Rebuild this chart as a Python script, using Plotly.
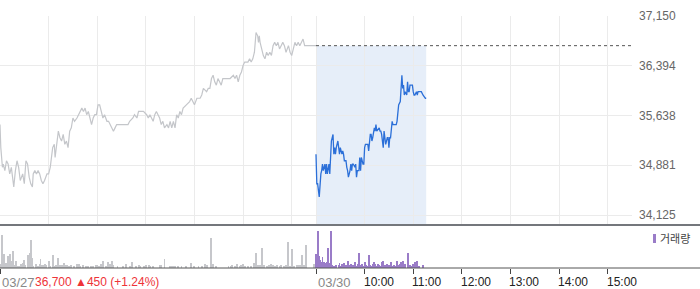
import plotly.graph_objects as go

# ---------------- data ----------------
prev_close = 36700
session_len = 390  # minutes 09:00-15:30

day1_min = [0, 1, 3, 4, 6, 8, 10, 12, 14, 16,
            17, 19, 21, 23, 25, 28, 30, 32, 34, 36,
            38, 40, 41, 43, 45, 47, 49, 51, 53, 55,
            58, 60, 62, 65, 67, 68, 70, 72, 74, 76,
            78, 80, 82, 84, 86, 88, 90, 92, 95, 97,
            99, 101, 103, 105, 107, 109, 111, 113, 115, 117,
            119, 121, 123, 125, 127, 129, 132, 134, 136, 138,
            140, 142, 144, 152, 158, 160, 164, 166, 169, 171,
            177, 181, 183, 185, 187, 189, 191, 193, 195, 197,
            199, 201, 203, 206, 208, 210, 212, 214, 216, 218,
            220, 222, 224, 226, 230, 234, 236, 238, 240, 243,
            247, 249, 251, 255, 257, 259, 261, 263, 265, 267,
            269, 271, 273, 275, 279, 284, 288, 290, 292, 294,
            296, 298, 300, 302, 304, 306, 308, 310, 312, 314,
            316, 318, 319, 320, 321, 323, 325, 327, 329, 331,
            333, 335, 337, 339, 341, 343, 345, 347, 349, 351,
            353, 356, 358, 360, 362, 364, 366, 368, 370, 372,
            374, 376, 378, 382, 390]
day1_price = [35500, 35150, 34850, 34900, 34800, 34950, 34900, 34750, 34850, 34650,
              34550, 34800, 34950, 34850, 34650, 34750, 34600, 34950, 34900, 34700,
              34600, 34550, 34750, 34800, 34750, 34800, 34750, 34650, 34600, 34650,
              34750, 34750, 34850, 35150, 35200, 35000, 35250, 35400, 35300, 35250,
              35350, 35200, 35250, 35150, 35400, 35450, 35600, 35550, 35600, 35650,
              35700, 35750, 35700, 35750, 35650, 35700, 35600, 35500, 35600, 35650,
              35650, 35800, 35800, 35700, 35600, 35650, 35550, 35550, 35500, 35450,
              35400, 35450, 35500, 35500, 35500, 35550, 35600, 35650, 35600, 35700,
              35700, 35650, 35600, 35650, 35600, 35550, 35650, 35700, 35650, 35600,
              35500, 35550, 35450, 35500, 35450, 35550, 35450, 35550, 35450, 35650,
              35600, 35700, 35650, 35750, 35800, 35850, 35900, 35850, 35800, 35900,
              35900, 35950, 36050, 36000, 36050, 36050, 36200, 36250, 36150, 36100,
              36200, 36150, 36100, 36200, 36200, 36200, 36250, 36200, 36250, 36150,
              36250, 36300, 36400, 36450, 36450, 36450, 36500, 36450, 36500, 36600,
              36900, 36850, 36750, 36850, 36750, 36650, 36550, 36500, 36600, 36550,
              36600, 36550, 36700, 36750, 36700, 36750, 36650, 36700, 36750, 36700,
              36600, 36700, 36600, 36550, 36650, 36750, 36700, 36750, 36700, 36750,
              36800, 36700, 36700, 36700, 36700]

day2_min = [0, 1, 2, 4, 6, 7, 8, 9, 11, 12,
            13, 14, 16, 17, 18, 19, 21, 22, 23, 24,
            25, 27, 28, 29, 30, 32, 33, 34, 35, 37,
            38, 39, 40, 42, 43, 44, 45, 46, 48, 49,
            50, 51, 53, 54, 55, 56, 58, 59, 60, 61,
            62, 64, 65, 67, 68, 69, 70, 72, 73, 74,
            75, 77, 78, 79, 80, 81, 83, 84, 85, 86,
            88, 89, 90, 91, 92, 94, 95, 96, 97, 99,
            100, 101, 102, 104, 105, 106, 107, 108, 109, 110,
            112, 113, 114, 115, 116, 117, 119, 120, 121, 122,
            124, 125, 126, 128, 130, 132, 134, 135, 136]
day2_price = [35050, 34600, 34600, 34400, 34750, 34800, 34900, 34800, 34900, 34750,
              34900, 34750, 34900, 34750, 35000, 35250, 35350, 35050, 35150, 35050,
              35150, 35250, 35150, 35050, 35150, 35050, 35100, 35050, 34950, 34950,
              34850, 34800, 34700, 34800, 34900, 34800, 34900, 34900, 34850, 34900,
              34700, 34800, 34800, 35000, 34800, 35000, 34900, 34900, 35150, 35200,
              35200, 35200, 35100, 35350, 35350, 35250, 35300, 35450, 35400, 35500,
              35400, 35450, 35450, 35400, 35400, 35350, 35150, 35400, 35250, 35200,
              35300, 35300, 35150, 35300, 35300, 35550, 35500, 35500, 35500, 35500,
              35550, 35650, 35800, 35850, 36000, 36250, 36050, 36100, 35950, 36000,
              35950, 36150, 36000, 36000, 36100, 36100, 36100, 36000, 35950, 35950,
              36000, 35950, 36000, 36000, 36000, 35950, 35900, 35900, 35900]

vol1_min = [1, 3, 5, 6, 7, 10, 12, 13, 14, 16,
            18, 20, 21, 24, 26, 28, 29, 30, 31, 34,
            35, 37, 38, 39, 41, 44, 45, 47, 49, 50,
            52, 53, 55, 57, 60, 62, 65, 67, 69, 72,
            74, 76, 79, 81, 83, 85, 88, 91, 95, 97,
            99, 103, 106, 109, 112, 115, 118, 120, 122, 125,
            127, 131, 133, 136, 138, 140, 145, 152, 155, 161,
            163, 168, 171, 173, 178, 180, 184, 185, 189,
            197, 199, 203, 210, 212, 214, 216, 220, 224, 230,
            236, 240, 245, 249, 253, 255, 260, 262, 263, 267,
            282, 285, 286, 290, 293, 296, 298, 300, 302, 306,
            310, 314, 316, 318, 321, 323, 326, 329, 332, 334,
            337, 339, 342, 345, 347, 351, 353, 356, 358, 360,
            363, 366, 368, 370, 372, 373, 375, 378, 388]
vol1 = [4, 33, 14, 4, 5, 12, 14, 7, 5, 17,
        3, 7, 2, 2, 4, 5, 5, 8, 3, 2,
        13, 15, 28, 10, 2, 2, 4, 2, 4, 9,
        3, 3, 4, 3, 7, 2, 13, 2, 3, 10,
        3, 3, 5, 3, 3, 2, 3, 2, 4, 4,
        2, 3, 2, 2, 2, 2, 3, 3, 2, 4,
        7, 2, 6, 4, 7, 3, 2, 2, 4, 2,
        6, 2, 3, 2, 2, 3, 3, 2, 2,
        3, 3, 9, 2, 2, 2, 2, 2, 2, 2,
        5, 2, 2, 2, 4, 3, 30, 3, 4, 2,
        2, 2, 3, 2, 4, 2, 3, 4, 2, 2,
        2, 5, 15, 3, 3, 20, 3, 2, 3, 4,
        3, 2, 3, 2, 3, 2, 3, 26, 2, 19,
        2, 3, 3, 3, 3, 13, 3, 23, 4]

vol2_min = [0, 1, 3, 4, 5, 7, 8, 9, 10, 11,
            13, 14, 15, 16, 18, 19, 20, 22, 24, 25,
            28, 29, 30, 32, 34, 35, 36, 38, 39, 41,
            43, 44, 46, 48, 50, 52, 53, 55, 57, 58,
            60, 62, 63, 65, 67, 68, 70, 72, 73, 75,
            76, 78, 80, 81, 83, 85, 86, 88, 90, 91,
            93, 95, 96, 99, 100, 102, 104, 105, 107, 109,
            110, 113, 114, 116, 117, 120, 122, 123, 125, 127,
            132]
vol2 = [14, 6, 37, 12, 8, 6, 11, 4, 6, 5,
        6, 5, 20, 5, 37, 6, 3, 2, 2, 3,
        3, 5, 2, 4, 3, 5, 3, 3, 7, 3,
        4, 2, 3, 6, 2, 4, 15, 3, 4, 2,
        6, 3, 2, 13, 3, 2, 4, 6, 4, 2,
        4, 3, 2, 6, 7, 3, 2, 4, 3, 2,
        6, 2, 3, 2, 7, 3, 4, 6, 7, 3,
        4, 15, 2, 3, 2, 4, 6, 3, 7, 2,
        3]

price_ticks = [34125, 34881, 35638, 36394, 37150]
price_labels = ["34,125", "34,881", "35,638", "36,394", "37,150"]
hour_ticks_day1 = [60, 120, 180, 240, 300, 360]
hour_ticks_day2 = [450, 510, 570, 630, 690, 750]
hour_labels = ["10:00", "11:00", "12:00", "13:00", "14:00", "15:00"]
date_labels = ["03/27", "03/30"]
info_text = "36,700 \u25b2450 (+1.24%)"
legend_label = "거래량"

# ---------------- styles ----------------
W, H = 700, 289
plot_right = 632 / W
y_lo, y_hi = 33973, 37151
GRAY_LINE = "#c4c6ca"
BLUE = "#2b6fd8"
PURPLE = "#9a7cc8"
GRID = "#ebebeb"
FONT = "Liberation Sans, Arial, sans-serif"

d2x = [session_len + m for m in day2_min]
v2x = [session_len + m for m in vol2_min]

fig = go.Figure()

fig.add_trace(go.Scatter(x=[session_len, 2 * session_len], y=[prev_close, prev_close],
                         mode="lines", line=dict(color="#555", width=1, dash="dot"),
                         hoverinfo="skip", xaxis="x", yaxis="y"))
fig.add_trace(go.Scatter(x=day1_min, y=day1_price, mode="lines",
                         line=dict(color=GRAY_LINE, width=1.2), xaxis="x", yaxis="y"))
fig.add_trace(go.Scatter(x=d2x, y=day2_price, mode="lines",
                         line=dict(color=BLUE, width=1.3), xaxis="x", yaxis="y"))

fig.add_trace(go.Bar(x=vol1_min, y=vol1, width=1.2, marker=dict(color="#c6c7cb", line=dict(width=0)),
                     xaxis="x2", yaxis="y2"))
fig.add_trace(go.Bar(x=v2x, y=vol2, width=1.2, marker=dict(color=PURPLE, line=dict(width=0)),
                     xaxis="x2", yaxis="y2"))

shapes = [
    dict(type="rect", xref="x", yref="y", x0=d2x[0], x1=d2x[-1], y0=y_lo, y1=prev_close,
         fillcolor="rgba(205,221,243,0.5)", line=dict(width=0), layer="below"),
    dict(type="line", xref="paper", yref="paper", x0=0, x1=1, y0=64 / H, y1=64 / H,
         line=dict(color="#74777c", width=2)),
    dict(type="line", xref="paper", yref="paper", x0=0, x1=1, y0=21 / H, y1=21 / H,
         line=dict(color="#555", width=1)),
    dict(type="rect", xref="paper", yref="paper", x0=653 / W, x1=656 / W,
         y0=(H - 243) / H, y1=(H - 234) / H, fillcolor=PURPLE, line=dict(width=0)),
]

ann_y = (H - 282) / H
annotations = [
    dict(x=0, y=ann_y, xref="paper", yref="paper", text=date_labels[0], showarrow=False,
         xanchor="left", yanchor="middle", font=dict(size=13, color="#888", family=FONT)),
    dict(x=33 / W, y=ann_y, xref="paper", yref="paper", text=info_text, showarrow=False,
         xanchor="left", yanchor="middle", font=dict(size=12, color="#ee3338", family=FONT)),
    dict(x=session_len, y=ann_y, xref="x2", yref="paper", text=date_labels[1], showarrow=False,
         xanchor="left", yanchor="middle", font=dict(size=13, color="#888", family=FONT)),
    dict(x=658 / W, y=(H - 238) / H, xref="paper", yref="paper", text=legend_label, showarrow=False,
         xanchor="left", yanchor="middle", font=dict(size=11, color="#444", family="Noto Sans CJK KR")),
]
for t, lab in zip(hour_ticks_day2, hour_labels):
    annotations.append(dict(x=t, y=ann_y, xref="x2", yref="paper", text=lab, showarrow=False,
                            xanchor="left", yanchor="middle", xshift=-3,
                            font=dict(size=12, color="#222", family=FONT)))

grid_x = [0] + hour_ticks_day1 + [session_len] + hour_ticks_day2

fig.update_layout(
    width=W, height=H, margin=dict(l=0, r=0, t=0, b=0, pad=0, autoexpand=False),
    paper_bgcolor="white", plot_bgcolor="rgba(0,0,0,0)",
    showlegend=False, bargap=0,
    xaxis=dict(domain=[0, plot_right], range=[0, 2 * session_len], tickvals=grid_x,
               showticklabels=False, showgrid=True, gridcolor=GRID, gridwidth=1,
               zeroline=False, showline=False, ticks="", anchor="y", automargin=False),
    yaxis=dict(domain=[64 / H, (H - 16) / H], range=[y_lo, y_hi], side="right",
               tickvals=price_ticks, ticktext=price_labels, showgrid=True, gridcolor=GRID,
               zeroline=False, showline=False, ticks="", ticklabelstandoff=6,
               tickfont=dict(size=12, color="#666", family=FONT), anchor="x",
               automargin=False),
    xaxis2=dict(domain=[0, plot_right], range=[0, 2 * session_len],
                tickvals=[0, session_len] + hour_ticks_day2, showticklabels=False,
                ticks="outside", ticklen=5, tickcolor="#444", tickwidth=1,
                showgrid=False, zeroline=False, showline=False, anchor="y2", automargin=False),
    yaxis2=dict(domain=[21 / H, 63 / H], range=[0, 42], showgrid=False, zeroline=False,
                showticklabels=False, ticks="", anchor="x2", automargin=False),
    shapes=shapes, annotations=annotations,
)

fig.write_html("out.html")
